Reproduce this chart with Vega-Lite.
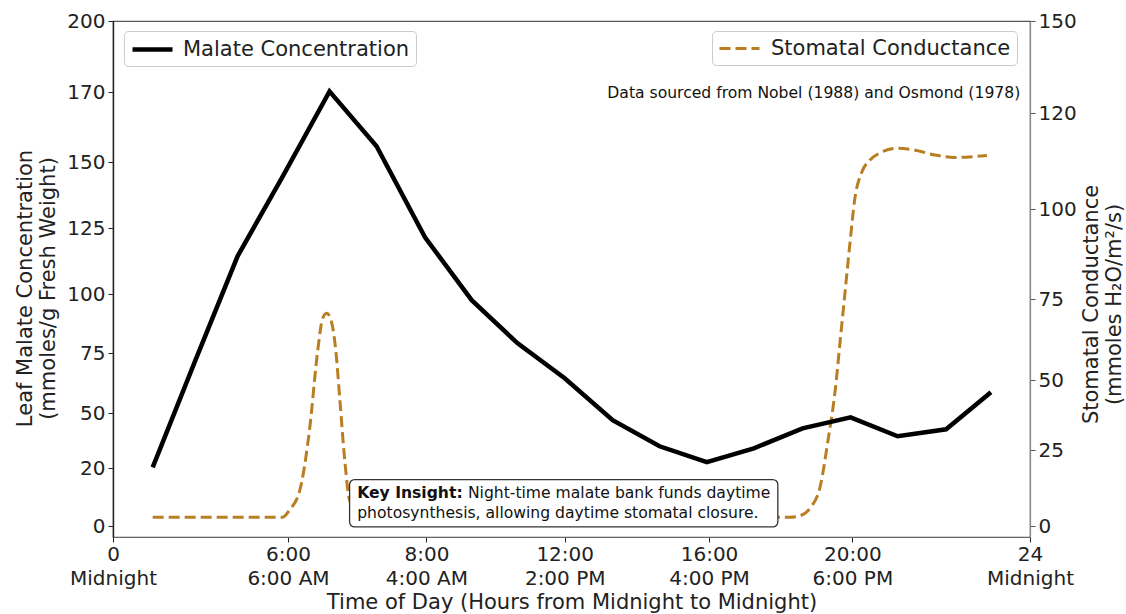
{
  "$schema": "https://vega.github.io/schema/vega-lite/v6.json",
  "autosize": {"type": "none"},
  "padding": {"left": 113, "top": 21, "right": 96, "bottom": 77},
  "width": 917,
  "height": 516,
  "background": "white",
  "config": {
    "font": "DejaVu Sans",
    "view": {"stroke": "#555", "strokeWidth": 1.2}
  },
  "datasets": {
    "malate": [
      {"hour": 1.36, "malate": 20.5},
      {"hour": 2.8, "malate": 71.3},
      {"hour": 4.27, "malate": 114.4},
      {"hour": 5.82, "malate": 144.7},
      {"hour": 6.6, "malate": 170.4},
      {"hour": 7.28, "malate": 154.6},
      {"hour": 7.98, "malate": 121.6},
      {"hour": 9.31, "malate": 97.5},
      {"hour": 10.64, "malate": 79.2},
      {"hour": 12.0, "malate": 64.6},
      {"hour": 13.33, "malate": 46.2},
      {"hour": 14.63, "malate": 32},
      {"hour": 15.94, "malate": 23.3},
      {"hour": 17.25, "malate": 30.9},
      {"hour": 18.61, "malate": 41.8},
      {"hour": 19.95, "malate": 47.8},
      {"hour": 21.02, "malate": 37.5},
      {"hour": 22.11, "malate": 41.3},
      {"hour": 23.12, "malate": 58.75}
    ],
    "stomatal": [
      {"hour": 1.36, "conductance": 3},
      {"hour": 3.0, "conductance": 3},
      {"hour": 4.5, "conductance": 3},
      {"hour": 5.82, "conductance": 3},
      {"hour": 6.02, "conductance": 5.3},
      {"hour": 6.17, "conductance": 11.8},
      {"hour": 6.31, "conductance": 32.1},
      {"hour": 6.43, "conductance": 59.3},
      {"hour": 6.5, "conductance": 69.1},
      {"hour": 6.56, "conductance": 70.7},
      {"hour": 6.63, "conductance": 67.9},
      {"hour": 6.69, "conductance": 59.3},
      {"hour": 6.75, "conductance": 42.9},
      {"hour": 6.82, "conductance": 21.7},
      {"hour": 6.89, "conductance": 8.6},
      {"hour": 6.98, "conductance": 5},
      {"hour": 7.11, "conductance": 3.3},
      {"hour": 10.0, "conductance": 3},
      {"hour": 14.0, "conductance": 3},
      {"hour": 17.42, "conductance": 3},
      {"hour": 18.26, "conductance": 3},
      {"hour": 18.54, "conductance": 3.5},
      {"hour": 18.82, "conductance": 6},
      {"hour": 19.1, "conductance": 13},
      {"hour": 19.32, "conductance": 28.6},
      {"hour": 19.52, "conductance": 46.4},
      {"hour": 19.66, "conductance": 62.3},
      {"hour": 19.8, "conductance": 77.5},
      {"hour": 19.94, "conductance": 91.4},
      {"hour": 20.05, "conductance": 101.9},
      {"hour": 20.21, "conductance": 107.7},
      {"hour": 20.39, "conductance": 110.2},
      {"hour": 20.61, "conductance": 111.7},
      {"hour": 21.02, "conductance": 112.7},
      {"hour": 21.41, "conductance": 112.3},
      {"hour": 21.86, "conductance": 111.3},
      {"hour": 22.31, "conductance": 110.8},
      {"hour": 22.76, "conductance": 111.0},
      {"hour": 23.03, "conductance": 111.2}
    ]
  },
  "layer": [
    {
      "data": {"name": "stomatal"},
      "mark": {"type": "line", "interpolate": "monotone", "strokeWidth": 3, "strokeDash": [11, 5], "strokeCap": "butt"},
      "encoding": {
        "x": {
          "field": "hour", "type": "quantitative",
          "scale": {"domain": [0, 6, 8, 12, 16, 20, 24], "range": [0, 175, 313.4, 451.7, 596, 739.4, 917], "nice": false, "zero": false},
          "axis": {
            "values": [0, 6, 8, 12, 16, 20, 24],
            "labelExpr": "datum.value == 0 ? ['0','Midnight'] : datum.value == 6 ? ['6:00','6:00 AM'] : datum.value == 8 ? ['8:00','4:00 AM'] : datum.value == 12 ? ['12:00','2:00 PM'] : datum.value == 16 ? ['16:00','4:00 PM'] : datum.value == 20 ? ['20:00','6:00 PM'] : ['24','Midnight']",
            "labelFontSize": 20, "labelLineHeight": 24, "labelColor": "#222", "labelPadding": 2,
            "tickSize": 5, "tickColor": "#222", "domainColor": "#666", "domainWidth": 1.2,
            "grid": false, "labelFlush": false, "labelOverlap": false,
            "title": "Time of Day (Hours from Midnight to Midnight)",
            "titleFontSize": 21, "titleFontWeight": "normal", "titleColor": "#222", "titlePadding": 3
          }
        },
        "y": {
          "field": "conductance", "type": "quantitative",
          "scale": {"domain": [-4, 0, 25, 50, 75, 100, 120, 150], "range": [516, 505.3, 429.3, 359.3, 278.3, 188.3, 92.3, 0], "nice": false, "zero": false},
          "axis": {
            "orient": "right",
            "values": [0, 25, 50, 75, 100, 120, 150],
            "labelFontSize": 20, "labelColor": "#222", "labelPadding": 3,
            "tickSize": 5, "tickColor": "#555", "domainColor": "#888", "domainWidth": 1.2,
            "grid": false, "labelFlush": false, "labelOverlap": false,
            "title": ["Stomatal Conductance", "(mmoles H₂O/m²/s)"],
            "titleAngle": 270, "titleBaseline": "bottom", "titleY": 283,
            "titleFontSize": 21, "titleFontWeight": "normal", "titleColor": "#222", "titlePadding": 2, "titleLineHeight": 23
          }
        },
        "color": {
          "datum": "Stomatal Conductance", "type": "nominal",
          "scale": {"domain": ["Stomatal Conductance"], "range": ["#b97d22"]},
          "legend": {
            "orient": "none", "legendX": 599, "legendY": 10, "title": null,
            "symbolType": "M-2,0H2", "symbolSize": 400, "symbolStrokeWidth": 3, "symbolDash": [11, 5],
            "symbolFillColor": "transparent", "symbolOffset": 10,
            "labelFontSize": 21, "labelColor": "#222", "labelOffset": 20, "labelLimit": 400,
            "padding": 6, "strokeColor": "#ccc", "fillColor": "white", "cornerRadius": 4
          }
        }
      }
    },
    {
      "layer": [
        {
          "data": {"name": "malate"},
          "mark": {"type": "line", "strokeWidth": 4.5, "strokeJoin": "miter"},
          "encoding": {
            "x": {"field": "hour", "type": "quantitative"},
            "y": {
              "field": "malate", "type": "quantitative",
              "scale": {"domain": [-5, 0, 20, 50, 75, 100, 125, 150, 170, 200], "range": [516, 505.3, 447.3, 392.3, 332.3, 273.3, 207.3, 141.3, 71.3, 0], "nice": false, "zero": false},
              "axis": {
                "orient": "left",
                "values": [0, 20, 50, 75, 100, 125, 150, 170, 200],
                "labelFontSize": 20, "labelColor": "#222", "labelPadding": 3,
                "tickSize": 5, "tickColor": "#222", "domainColor": "#222", "domainWidth": 1.4,
                "grid": false, "labelFlush": false, "labelOverlap": false,
                "title": ["Leaf Malate Concentration", "(mmoles/g Fresh Weight)"],
                "titleY": 267,
                "titleFontSize": 21, "titleFontWeight": "normal", "titleColor": "#222", "titlePadding": 8, "titleLineHeight": 23
              }
            },
            "color": {
              "datum": "Malate Concentration", "type": "nominal",
              "scale": {"domain": ["Malate Concentration"], "range": ["#000000"]},
              "legend": {
                "orient": "none", "legendX": 11, "legendY": 10, "title": null,
                "symbolType": "M-2,0H2", "symbolSize": 400, "symbolStrokeWidth": 4.5,
                "symbolFillColor": "transparent", "symbolOffset": 10,
                "labelFontSize": 21, "labelColor": "#222", "labelOffset": 18, "labelLimit": 400,
                "padding": 6, "strokeColor": "#ccc", "fillColor": "white", "cornerRadius": 4
              }
            }
          }
        },
        {
          "data": {"values": [{}]},
          "mark": {"type": "rect", "fill": "white", "stroke": "#333", "strokeWidth": 1.3, "cornerRadius": 5},
          "encoding": {
            "x": {"datum": 6.89, "type": "quantitative"},
            "x2": {"datum": 17.92},
            "y": {"datum": 16.1, "type": "quantitative"},
            "y2": {"datum": -0.3}
          }
        },
        {
          "data": {"values": [{}]},
          "mark": {"type": "text", "text": "Key Insight:", "fontWeight": "bold", "fontSize": 15.6, "align": "left", "baseline": "middle", "color": "#111"},
          "encoding": {
            "x": {"datum": 7.0, "type": "quantitative"},
            "y": {"datum": 11.4, "type": "quantitative"}
          }
        },
        {
          "data": {"values": [{}]},
          "mark": {"type": "text", "text": "Night-time malate bank funds daytime", "fontSize": 15.6, "align": "left", "baseline": "middle", "color": "#111"},
          "encoding": {
            "x": {"datum": 9.2, "type": "quantitative"},
            "y": {"datum": 11.4, "type": "quantitative"}
          }
        },
        {
          "data": {"values": [{}]},
          "mark": {"type": "text", "text": "photosynthesis, allowing daytime stomatal closure.", "fontSize": 15.6, "align": "left", "baseline": "middle", "color": "#111"},
          "encoding": {
            "x": {"datum": 7.0, "type": "quantitative"},
            "y": {"datum": 4.5, "type": "quantitative"}
          }
        },
        {
          "data": {"values": [{}]},
          "mark": {"type": "text", "text": "Data sourced from Nobel (1988) and Osmond (1978)", "fontSize": 15.6, "align": "right", "baseline": "middle", "color": "#111"},
          "encoding": {
            "x": {"datum": 23.78, "type": "quantitative"},
            "y": {"datum": 169.7, "type": "quantitative"}
          }
        }
      ]
    }
  ],
  "resolve": {"scale": {"y": "independent", "color": "independent"}, "legend": {"color": "independent"}}
}
